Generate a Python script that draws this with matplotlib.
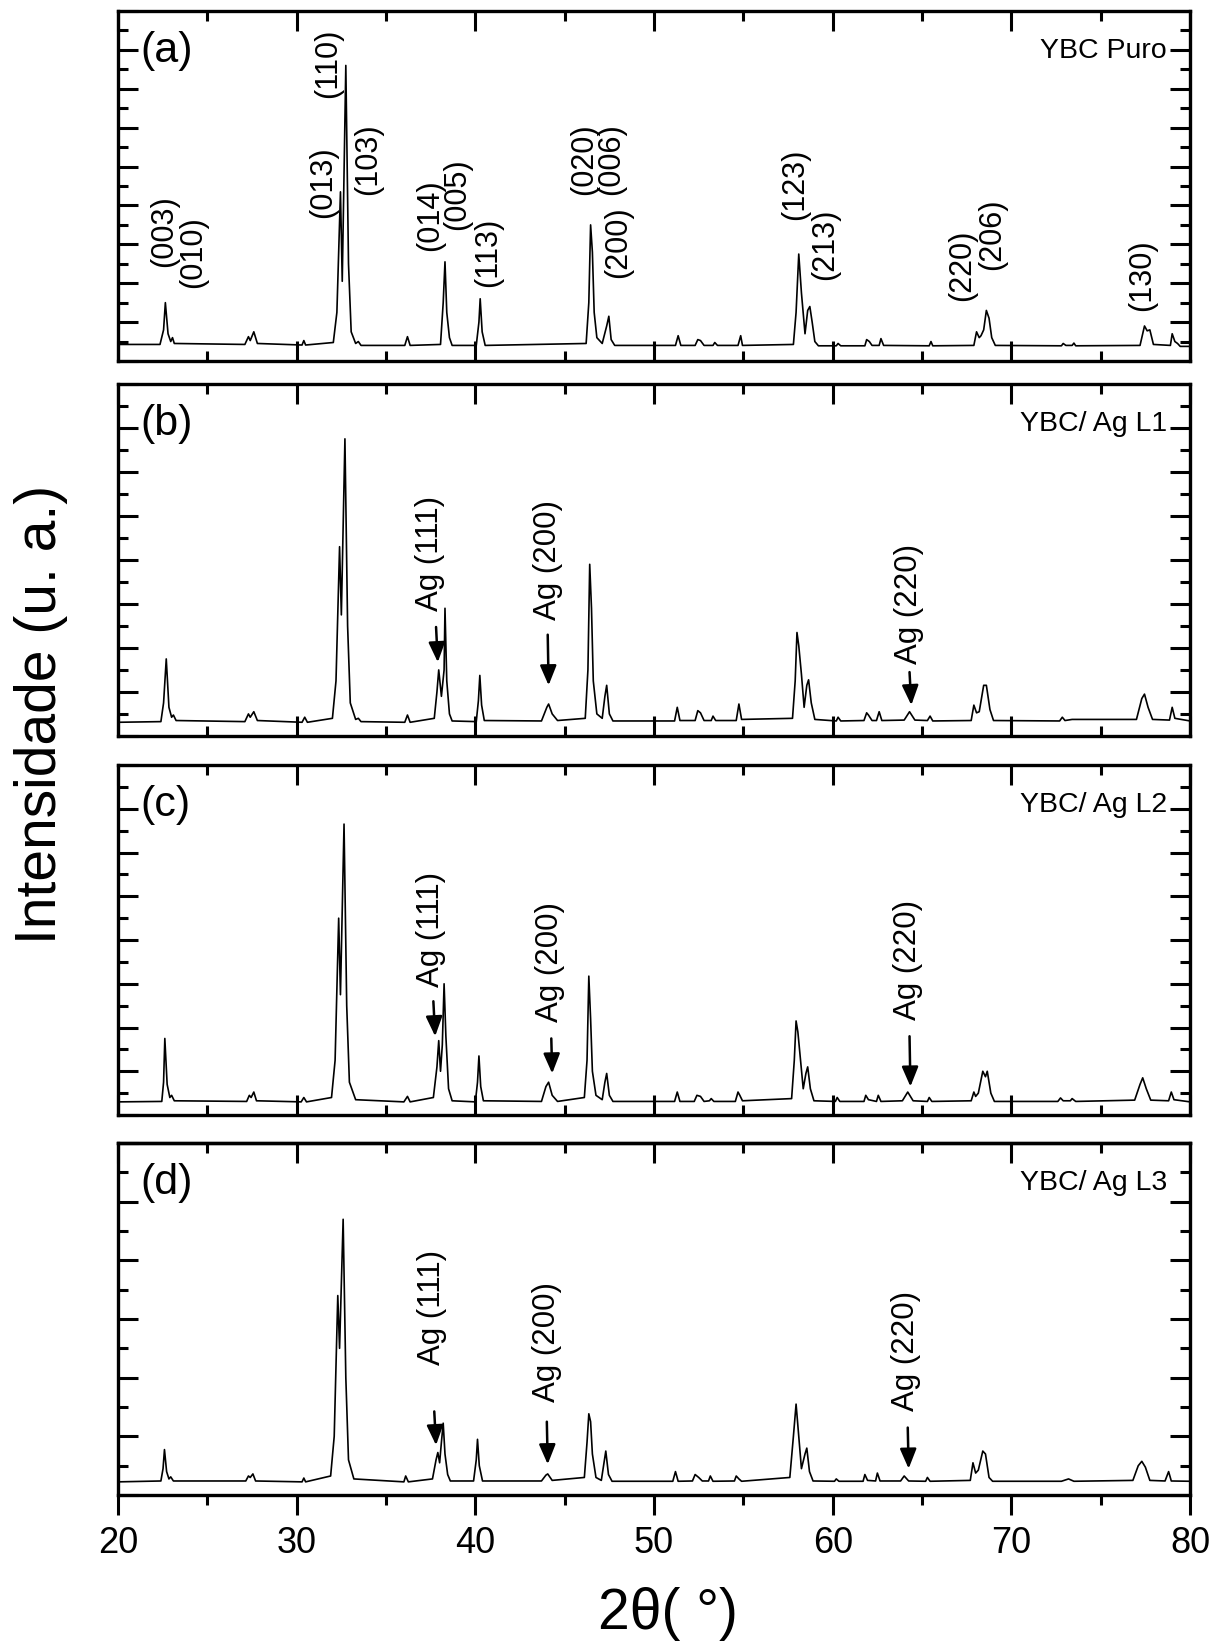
import matplotlib.pyplot as plt
from matplotlib.ticker import MultipleLocator, NullFormatter

plt.rcParams['font.family'] = ['Liberation Sans', 'DejaVu Sans']

# ---- diffractogram traces (2theta in degrees, intensity in arbitrary units),
# vertices ----
tt_a = [20.0, 22.35, 22.55, 22.65, 22.8, 22.95, 23.05, 23.15, 27.1, 27.3, 27.4, 27.6, 27.8,
        30.3, 30.4, 30.5, 32.05, 32.25, 32.45, 32.55, 32.75, 32.9, 33.05, 33.3, 33.45, 33.6,
        36.05, 36.2, 36.35, 38.05, 38.2, 38.3, 38.4, 38.55, 38.7, 40.05, 40.2, 40.27, 40.38, 40.55,
        46.2, 46.35, 46.45, 46.55, 46.65, 46.8, 47.1, 47.35, 47.47, 47.6, 47.8,
        51.2, 51.35, 51.5, 52.3, 52.45, 52.6, 52.8, 53.3, 53.4, 53.55, 54.7, 54.85, 54.95,
        57.8, 57.95, 58.1, 58.25, 58.45, 58.6, 58.72, 58.85, 59.0, 59.2, 60.2, 60.3, 60.45,
        61.8, 61.9, 62.05, 62.2, 62.6, 62.7, 62.85, 65.4, 65.5, 65.6,
        67.9, 68.05, 68.2, 68.3, 68.45, 68.6, 68.75, 68.9, 69.1, 72.8, 72.9, 73.05, 73.4, 73.5, 73.6,
        77.2, 77.45, 77.6, 77.75, 77.95, 78.9, 79.0, 79.15, 79.3, 79.45, 80.0]
int_a = [0.85, 0.85, 1.6, 3.0, 1.4, 1.0, 1.2, 0.9, 0.85, 1.25, 1.05, 1.5, 0.9,
         0.82, 1.05, 0.82, 0.95, 2.5, 8.7, 4.1, 15.2, 5.0, 1.5, 0.9, 1.0, 0.8,
         0.8, 1.25, 0.8, 0.85, 3.0, 5.1, 2.5, 1.2, 0.8, 0.8, 2.0, 3.2, 1.5, 0.8,
         0.9, 3.0, 7.0, 5.6, 2.5, 1.2, 0.9, 1.8, 2.3, 1.1, 0.8,
         0.8, 1.3, 0.8, 0.8, 1.1, 1.05, 0.8, 0.8, 0.95, 0.8, 0.8, 1.3, 0.8,
         0.85, 2.5, 5.5, 3.5, 1.4, 2.6, 2.8, 2.0, 1.0, 0.78, 0.78, 0.9, 0.78,
         0.78, 1.1, 1.0, 0.8, 0.8, 1.15, 0.8, 0.78, 1.0, 0.78,
         0.8, 1.5, 1.2, 1.3, 1.6, 2.6, 2.2, 1.2, 0.8, 0.78, 0.9, 0.8, 0.8, 0.92, 0.78,
         0.8, 1.8, 1.55, 1.6, 0.85, 0.8, 1.4, 1.0, 0.9, 0.75, 0.75]

tt_b = [20.0, 22.4, 22.55, 22.7, 22.85, 23.0, 23.1, 23.25, 27.1, 27.3, 27.4, 27.6, 27.8,
        30.3, 30.45, 30.6, 32.0, 32.2, 32.4, 32.5, 32.7, 32.85, 33.0, 33.3, 33.45, 33.6,
        36.05, 36.2, 36.35, 37.7, 37.85, 37.95, 38.1, 38.25, 38.3, 38.4, 38.55, 38.7,
        40.05, 40.17, 40.25, 40.35, 40.5, 43.7, 44.0, 44.1, 44.3, 44.6,
        46.15, 46.3, 46.4, 46.5, 46.6, 46.8, 47.1, 47.25, 47.35, 47.5, 47.7,
        51.15, 51.3, 51.45, 52.3, 52.45, 52.6, 52.8, 53.2, 53.3, 53.45, 54.6, 54.75, 54.9,
        57.75, 57.9, 58.0, 58.1, 58.25, 58.4, 58.55, 58.65, 58.8, 59.0, 60.2, 60.3, 60.45,
        61.75, 61.9, 62.0, 62.2, 62.45, 62.6, 62.75, 64.0, 64.3, 64.6, 65.3, 65.45, 65.6,
        67.75, 67.9, 68.05, 68.2, 68.45, 68.6, 68.8, 69.0, 72.7, 72.85, 73.0, 73.4,
        77.0, 77.3, 77.45, 77.65, 77.9, 78.85, 79.0, 79.15, 80.0]
int_b = [0.62, 0.65, 1.5, 3.5, 1.3, 0.85, 0.95, 0.7, 0.65, 1.0, 0.85, 1.1, 0.7,
         0.62, 0.85, 0.62, 0.8, 2.5, 8.6, 5.5, 13.5, 5.0, 1.5, 0.75, 0.8, 0.65,
         0.62, 0.95, 0.62, 0.8, 2.0, 3.0, 1.8, 3.0, 5.8, 2.5, 1.0, 0.68,
         0.65, 1.6, 2.75, 1.4, 0.7, 0.68, 1.3, 1.45, 1.0, 0.7,
         0.8, 3.0, 7.8, 5.8, 2.5, 1.0, 0.8, 1.8, 2.3, 1.0, 0.68,
         0.68, 1.3, 0.7, 0.7, 1.15, 1.05, 0.7, 0.7, 0.9, 0.7, 0.7, 1.45, 0.75,
         0.8, 2.5, 4.7, 4.1, 2.8, 1.3, 2.3, 2.55, 1.5, 0.75, 0.68, 0.85, 0.68,
         0.7, 1.05, 0.95, 0.7, 0.7, 1.1, 0.7, 0.72, 1.1, 0.72, 0.7, 0.9, 0.68,
         0.7, 1.4, 1.05, 1.1, 2.3, 2.3, 1.2, 0.7, 0.68, 0.85, 0.7, 0.75,
         0.75, 1.7, 1.9, 1.3, 0.75, 0.72, 1.3, 0.8, 0.68]

tt_c = [20.0, 22.45, 22.55, 22.62, 22.75, 22.9, 23.0, 23.15, 27.2, 27.35, 27.45, 27.6, 27.75,
        30.25, 30.4, 30.55, 31.95, 32.15, 32.35, 32.45, 32.65, 32.8, 32.95, 33.3,
        36.0, 36.2, 36.35, 37.65, 37.85, 37.95, 38.05, 38.15, 38.25, 38.35, 38.5, 38.7,
        40.0, 40.12, 40.2, 40.3, 40.45, 43.7, 43.95, 44.1, 44.3, 44.6,
        46.1, 46.25, 46.35, 46.45, 46.55, 46.75, 47.1, 47.25, 47.35, 47.5, 47.7,
        51.15, 51.3, 51.45, 52.25, 52.4, 52.6, 52.8, 53.1, 53.2, 53.35, 54.55, 54.7, 54.8, 54.95,
        57.7, 57.85, 57.95, 58.05, 58.2, 58.35, 58.5, 58.6, 58.75, 58.95, 60.15, 60.25, 60.4,
        61.75, 61.85, 62.0, 62.45, 62.55, 62.7, 63.9, 64.2, 64.5, 65.3, 65.4, 65.55,
        67.75, 67.9, 68.0, 68.15, 68.4, 68.55, 68.65, 68.85, 69.05, 72.6, 72.75, 72.9,
        73.3, 73.4, 73.6, 76.9, 77.2, 77.35, 77.55, 77.8, 78.8, 78.95, 79.1, 80.0]
int_c = [0.6, 0.62, 1.5, 3.5, 1.4, 0.8, 0.9, 0.65, 0.62, 0.9, 0.8, 1.05, 0.65,
         0.6, 0.8, 0.6, 0.8, 2.5, 9.0, 5.5, 13.3, 5.0, 1.5, 0.7,
         0.6, 0.85, 0.6, 0.8, 2.2, 3.4, 2.0, 3.2, 6.0, 3.6, 1.2, 0.65,
         0.6, 1.5, 2.7, 1.3, 0.65, 0.62, 1.3, 1.5, 0.9, 0.62,
         0.8, 2.5, 6.35, 4.4, 2.0, 0.9, 0.7, 1.5, 1.9, 0.9, 0.62,
         0.62, 1.05, 0.62, 0.62, 0.9, 0.85, 0.62, 0.65, 0.75, 0.62, 0.62, 1.05, 0.9, 0.65,
         0.75, 2.5, 4.3, 3.8, 2.5, 1.2, 1.9, 2.2, 1.2, 0.65, 0.62, 0.8, 0.62,
         0.62, 0.9, 0.7, 0.62, 0.9, 0.62, 0.65, 1.05, 0.65, 0.62, 0.8, 0.62,
         0.65, 1.05, 0.85, 1.0, 2.0, 1.75, 2.0, 1.0, 0.62, 0.62, 0.78, 0.65,
         0.65, 0.75, 0.62, 0.68, 1.4, 1.7, 1.2, 0.68, 0.65, 1.05, 0.7, 0.6]

tt_d = [20.0, 22.4, 22.52, 22.6, 22.72, 22.85, 22.95, 23.1, 27.15, 27.3, 27.4, 27.55, 27.7,
        30.3, 30.4, 30.5, 31.9, 32.1, 32.3, 32.4, 32.6, 32.75, 32.9, 33.2,
        36.0, 36.1, 36.25, 37.6, 37.8, 37.9, 38.0, 38.1, 38.2, 38.3, 38.45, 38.6,
        39.9, 40.05, 40.12, 40.22, 40.4, 43.7, 43.95, 44.05, 44.3,
        46.1, 46.25, 46.35, 46.45, 46.55, 46.75, 47.05, 47.2, 47.3, 47.45, 47.65,
        51.05, 51.2, 51.35, 52.15, 52.3, 52.5, 52.7, 53.05, 53.15, 53.3, 54.5, 54.6, 54.75, 54.9,
        57.6, 57.8, 57.95, 58.1, 58.25, 58.45, 58.55, 58.7, 58.9, 60.1, 60.2, 60.35,
        61.7, 61.8, 61.95, 62.4, 62.5, 62.65, 63.8, 64.0, 64.25, 65.2, 65.3, 65.45,
        67.7, 67.85, 68.0, 68.15, 68.4, 68.55, 68.75, 68.95, 72.8, 73.2, 73.5,
        76.8, 77.1, 77.3, 77.5, 77.75, 78.6, 78.8, 78.95, 80.0]
int_d = [0.45, 0.48, 0.9, 1.55, 0.8, 0.55, 0.62, 0.48, 0.48, 0.65, 0.6, 0.72, 0.48,
         0.45, 0.58, 0.45, 0.65, 2.0, 6.8, 5.0, 9.4, 4.0, 1.2, 0.55,
         0.45, 0.65, 0.45, 0.55, 1.2, 1.45, 1.1, 1.8, 2.45, 1.4, 0.7, 0.48,
         0.48, 1.2, 1.9, 1.0, 0.48, 0.48, 0.68, 0.72, 0.5,
         0.6, 1.8, 2.77, 2.5, 1.4, 0.6, 0.5, 1.1, 1.5, 0.7, 0.47,
         0.47, 0.8, 0.47, 0.48, 0.7, 0.6, 0.48, 0.48, 0.65, 0.47, 0.48, 0.65, 0.55, 0.47,
         0.6, 2.0, 3.1, 2.0, 0.9, 1.4, 1.6, 0.8, 0.48, 0.47, 0.55, 0.47,
         0.47, 0.7, 0.5, 0.48, 0.75, 0.48, 0.48, 0.65, 0.48, 0.47, 0.6, 0.47,
         0.5, 1.1, 0.75, 0.85, 1.5, 1.4, 0.6, 0.47, 0.47, 0.55, 0.47,
         0.5, 1.0, 1.15, 0.95, 0.5, 0.48, 0.8, 0.48, 0.47]

# ---- peak indexing of the pure sample (panel a) ----
hkl_labels = ['(003)', '(010)', '(013)', '(110)', '(103)', '(014)', '(005)', '(113)',
              '(020)', '(006)', '(200)', '(123)', '(213)', '(220)', '(206)', '(130)']
hkl_x = [22.6, 24.2, 31.5, 31.75, 34.0, 37.45, 39.0, 40.7,
         46.1, 47.6, 48.0, 57.9, 59.6, 67.25, 68.9, 77.3]
hkl_y = [6.7, 5.6, 9.2, 15.3, 10.4, 7.5, 8.6, 5.6,
         10.4, 10.4, 6.1, 9.1, 6.0, 4.9, 6.5, 4.4]

# ---- silver reflections: text centre (x, y), arrow tail and tip (x, y) ----
ag_labels = ['Ag (111)', 'Ag (200)', 'Ag (220)']
ag_text_b = [(37.45, 8.3), (44.05, 8.0), (64.25, 6.0)]
ag_tail_b = [(37.8, 4.95), (44.05, 4.6), (64.3, 2.9)]
ag_tip_b = [(37.9, 3.35), (44.1, 2.3), (64.4, 1.4)]
ag_text_c = [(37.5, 8.5), (44.2, 7.0), (64.2, 7.1)]
ag_tail_c = [(37.65, 5.2), (44.25, 3.5), (64.3, 3.6)]
ag_tip_c = [(37.75, 3.6), (44.3, 1.9), (64.35, 1.3)]
ag_text_d = [(37.55, 6.4), (44.0, 5.2), (64.1, 4.9)]
ag_tail_d = [(37.7, 2.85), (44.0, 2.5), (64.2, 2.3)]
ag_tip_d = [(37.8, 1.7), (44.05, 1.05), (64.25, 0.9)]

panel_tags = ['(a)', '(b)', '(c)', '(d)']
sample_names = ['YBC Puro', 'YBC/ Ag L1', 'YBC/ Ag L2', 'YBC/ Ag L3']
y_tops = [18, 16, 16, 12]

traces = [(tt_a, int_a), (tt_b, int_b), (tt_c, int_c), (tt_d, int_d)]
ag_sets = [None, (ag_text_b, ag_tail_b, ag_tip_b),
           (ag_text_c, ag_tail_c, ag_tip_c), (ag_text_d, ag_tail_d, ag_tip_d)]

fig = plt.figure(figsize=(12.28, 16.46), dpi=100)
boxes = [(0.0961, 0.7807, 0.873, 0.2126),
         (0.0961, 0.5529, 0.873, 0.2139),
         (0.0961, 0.3226, 0.873, 0.2126),
         (0.0961, 0.0917, 0.873, 0.2139)]

for i, box in enumerate(boxes):
    ax = fig.add_axes(box)
    x, y = traces[i]
    ax.plot(x, y, color='black', lw=1.2)
    ax.set_xlim(20, 80)
    ax.set_ylim(0, y_tops[i])

    for sp in ax.spines.values():
        sp.set_linewidth(2.4)
    ax.xaxis.set_major_locator(MultipleLocator(10))
    ax.xaxis.set_minor_locator(MultipleLocator(5))
    ax.yaxis.set_major_locator(MultipleLocator(2))
    ax.yaxis.set_minor_locator(MultipleLocator(1))
    ax.yaxis.set_major_formatter(NullFormatter())
    ax.tick_params(which='major', length=14.5, width=2.2)
    ax.tick_params(which='minor', length=7.5, width=2.2)
    ax.tick_params(axis='y', which='both', direction='in', left=True, right=True)

    if i < 3:
        ax.tick_params(axis='x', which='both', direction='in', top=True, bottom=True,
                       labelbottom=False)
    else:
        ax.tick_params(axis='x', which='both', direction='out', top=False, bottom=True,
                       labelsize=26, pad=8)
        top = ax.secondary_xaxis('top')
        top.xaxis.set_major_locator(MultipleLocator(10))
        top.xaxis.set_minor_locator(MultipleLocator(5))
        top.tick_params(which='major', direction='in', length=14.5, width=2.2, labeltop=False)
        top.tick_params(which='minor', direction='in', length=7.5, width=2.2)
        top.spines['top'].set_linewidth(2.4)

    ax.text(0.021, 0.885, panel_tags[i], transform=ax.transAxes, fontsize=31,
            ha='left', va='center')
    ax.text(0.9785, 0.885, sample_names[i], transform=ax.transAxes, fontsize=20.5,
            ha='right', va='center')

    if i == 0:
        for lab, hx, hy in zip(hkl_labels, hkl_x, hkl_y):
            ax.text(hx, hy, lab, rotation=90, fontsize=22, ha='center', va='center')

    if ag_sets[i] is not None:
        texts, tails, tips = ag_sets[i]
        for lab, tpos, tail, tip in zip(ag_labels, texts, tails, tips):
            ax.text(tpos[0], tpos[1], lab, rotation=90, fontsize=22.5, ha='center', va='center')
            ax.annotate('', xy=tip, xytext=tail,
                        arrowprops=dict(arrowstyle='-|>,head_length=0.6,head_width=0.25',
                                        color='black', lw=1.8, shrinkA=0, shrinkB=0,
                                        mutation_scale=20))

fig.text(0.033, 0.566, 'Intensidade (u. a.)', rotation=90, fontsize=41,
         ha='center', va='center')
fig.text(0.544, 0.0195, '2θ( °)', fontsize=41, ha='center', va='center')

fig.savefig('out.png', dpi=100)
